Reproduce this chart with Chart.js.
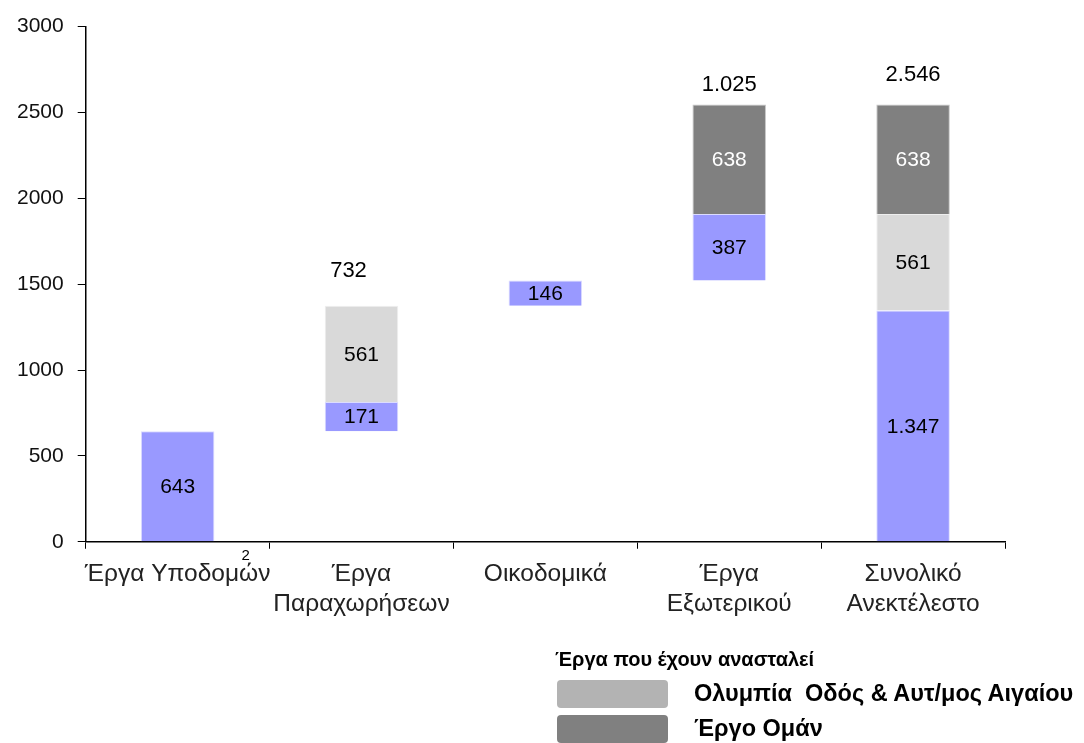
<!DOCTYPE html>
<html lang="el">
<head>
    <meta charset="UTF-8">
    <title>Ανεκτέλεστο</title>
    <script src="https://cdn.jsdelivr.net/npm/chart.js"></script>
    <style>
        body { margin: 0; background: #fff; font-family: Arial, "Liberation Sans", sans-serif; }
        #wrap { position: relative; width: 1084px; height: 743px; overflow: hidden; }
        #legend { position: absolute; left: 555px; top: 648px; }
        #legend .title { font-weight: bold; font-size: 20px; color: #000; height: 32px; }
        #legend .row { position: relative; height: 35px; }
        #legend .sw { position: absolute; left: 2px; top: 0; width: 111px; height: 28px; border-radius: 4px; }
        #legend .txt { position: absolute; left: 139px; top: 0; font-weight: bold; font-size: 23.5px; white-space: nowrap; color: #000; }
    </style>
</head>
<body>
<div id="wrap">
    <canvas id="chart" width="1084" height="743"></canvas>
    <div id="legend">
        <div class="title">Έργα που έχουν ανασταλεί</div>
        <div class="row"><div class="sw" style="background:#b3b3b3"></div><div class="txt">Ολυμπία&nbsp; Οδός &amp; Αυτ/μος Αιγαίου</div></div>
        <div class="row"><div class="sw" style="background:#808080"></div><div class="txt">Έργο Ομάν</div></div>
    </div>
</div>
<script>
    const categories = [['Έργα Υποδομών'], ['Έργα', 'Παραχωρήσεων'], ['Οικοδομικά'], ['Έργα', 'Εξωτερικού'], ['Συνολικό', 'Ανεκτέλεστο']];
    const baseValues   = [0, 643, 1375, 1521, 0];       // invisible offset (waterfall)
    const activeValues = [643, 171, 146, 387, 1347];    // purple
    const olympiaValues = [0, 561, 0, 0, 561];          // light grey
    const omanValues   = [0, 0, 0, 638, 638];           // dark grey
    const totalLabels  = ['', '732', '', '1.025', '2.546'];
    const yTicks = [0, 500, 1000, 1500, 2000, 2500, 3000];

    const FONT = 'Arial, "Liberation Sans", sans-serif';

    function fmt(v) {
        return String(v).replace(/\B(?=(\d{3})+(?!\d))/g, '.');
    }

    // hand placed offsets of the total labels, as in the original slide
    const totalOffsets = [null, [-13, -35], null, [0, -20], [0, -30]];

    const labelPlugin = {
        id: 'labels',
        afterDatasetsDraw(chart) {
            const ctx = chart.ctx;
            ctx.save();
            ctx.textAlign = 'center';
            ctx.textBaseline = 'middle';
            ctx.font = '21px ' + FONT;
            chart.data.datasets.forEach((ds, di) => {
                if (di === 0) return;
                chart.getDatasetMeta(di).data.forEach((el, i) => {
                    const v = ds.data[i];
                    if (!v) return;
                    ctx.fillStyle = ds.labelColor;
                    ctx.fillText(fmt(v), el.x, (el.y + el.base) / 2 + 1);
                });
            });
            // totals above the bars
            ctx.font = '22px ' + FONT;
            ctx.fillStyle = '#000';
            totalLabels.forEach((t, i) => {
                if (!t) return;
                let top = Infinity, x = 0;
                for (let d = 1; d < chart.data.datasets.length; d++) {
                    const el = chart.getDatasetMeta(d).data[i];
                    if (chart.data.datasets[d].data[i]) top = Math.min(top, el.y);
                    x = el.x;
                }
                const off = totalOffsets[i];
                ctx.fillText(t, x + off[0], top + off[1]);
            });
            // footnote marker above the first category label
            const xs = chart.scales.x;
            ctx.font = '15px ' + FONT;
            ctx.fillText('2', xs.getPixelForValue(0) + 68, xs.top + 14);
            ctx.restore();
        }
    };

    new Chart(document.getElementById('chart'), {
        type: 'bar',
        data: {
            labels: categories,
            datasets: [
                { data: baseValues, backgroundColor: 'rgba(0,0,0,0)', labelColor: 'transparent' },
                { data: activeValues, backgroundColor: '#9999ff', borderColor: '#dcdcff', borderWidth: 1, labelColor: '#000' },
                { data: olympiaValues, backgroundColor: '#d9d9d9', borderColor: '#eeeeee', borderWidth: 1, labelColor: '#000' },
                { data: omanValues, backgroundColor: '#808080', borderColor: '#c8c8c8', borderWidth: 1, labelColor: '#fff' }
            ]
        },
        options: {
            responsive: false,
            animation: false,
            layout: { padding: { top: 25, right: 79, bottom: 113, left: 3 } },
            plugins: { legend: { display: false }, tooltip: { enabled: false } },
            datasets: { bar: { categoryPercentage: 1, barPercentage: 0.4 } },
            scales: {
                x: {
                    stacked: true,
                    border: { color: '#000', width: 1.5 },
                    grid: { drawOnChartArea: false, color: '#000', tickLength: 7, offset: true },
                    ticks: { color: '#222', font: { size: 24.5, family: FONT, lineHeight: 1.25 }, padding: 10, maxRotation: 0, minRotation: 0, autoSkip: false }
                },
                y: {
                    stacked: true,
                    min: 0, max: 3000,
                    afterBuildTicks(scale) { scale.ticks = yTicks.map(v => ({ value: v })); },
                    border: { color: '#000', width: 1.5 },
                    grid: { drawOnChartArea: false, color: '#000', tickLength: 8 },
                    ticks: { color: '#111', font: { size: 21, family: FONT }, padding: 14, callback: v => String(v) }
                }
            }
        },
        plugins: [labelPlugin]
    });
</script>
</body>
</html>
